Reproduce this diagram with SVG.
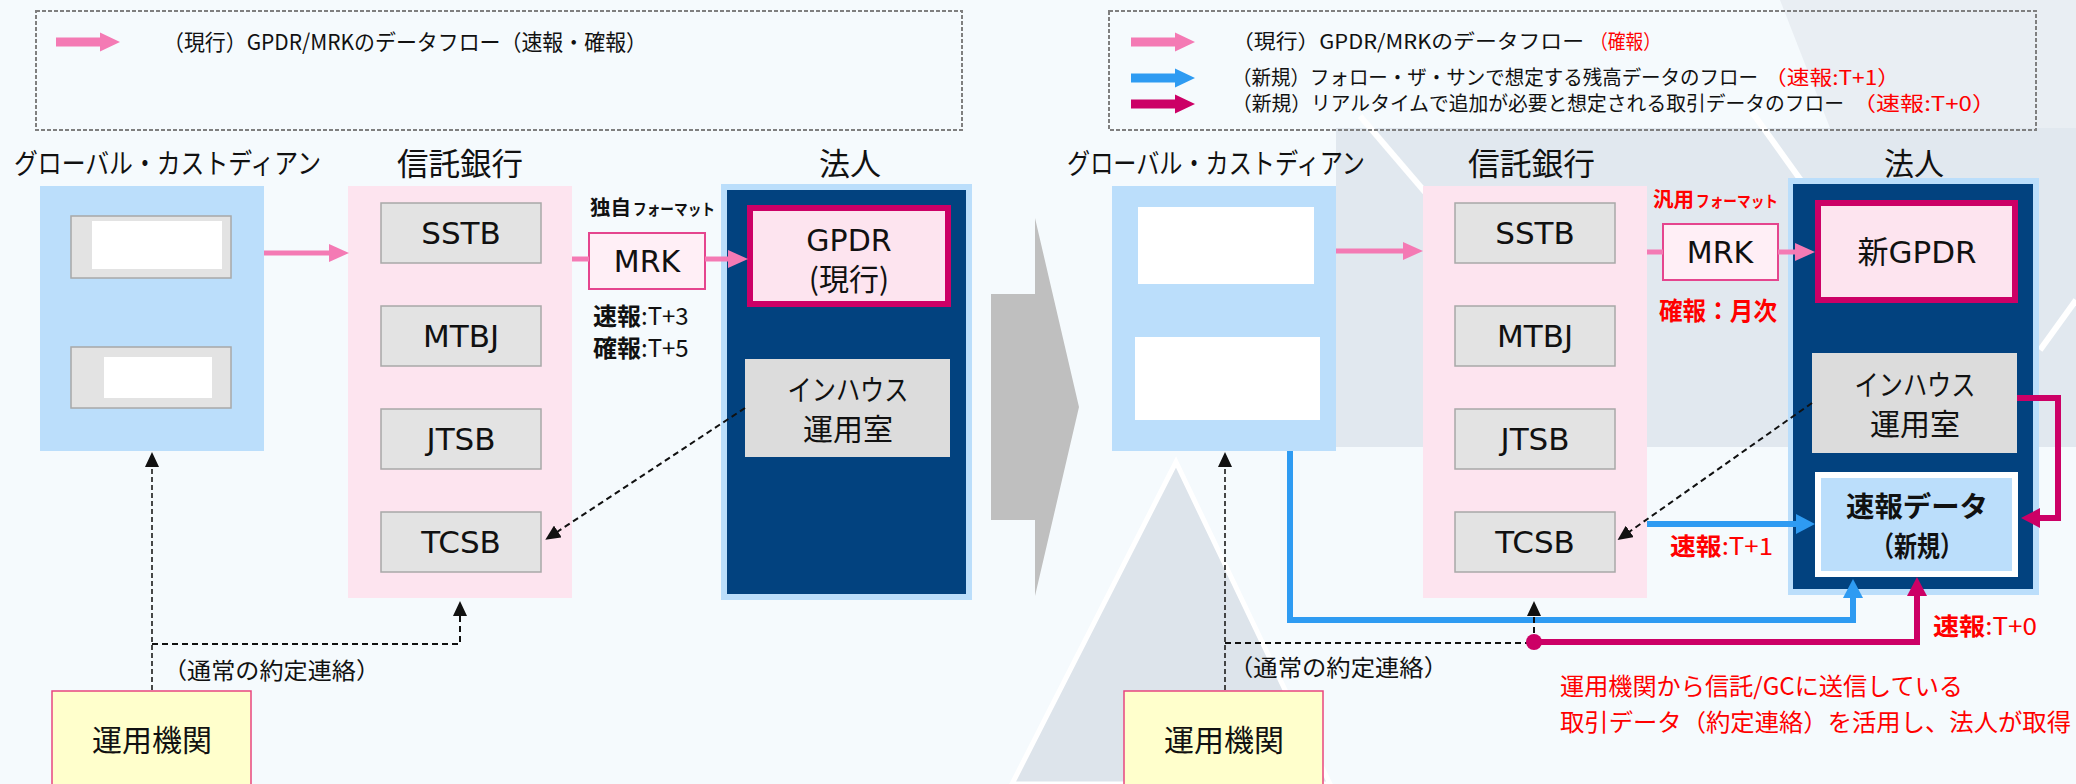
<svg xmlns="http://www.w3.org/2000/svg" width="2076" height="784" viewBox="0 0 2076 784">
<defs>
<style>
.jp{font-family:"Noto Sans CJK JP","Noto Sans",sans-serif;fill:#111}
.lat{font-family:"DejaVu Sans","Liberation Sans",sans-serif;fill:#111}
.red{fill:#FF0000}
.b{font-weight:bold}
.gc{fill:#BBDEFB}
.tb{fill:#FDE4EF}
.gbox{fill:#E3E3E3;stroke:#A8A8A8;stroke-width:1.5}
.wbox{fill:#FFFFFF}
.navy{fill:#02427F}
.gpdr{fill:#FDE4EF;stroke:#CC0066;stroke-width:6}
.inh{fill:#DCDCDC}
.mrk{fill:#FFEFF6;stroke:#E5458E;stroke-width:2}
.un{fill:#FFFFCC;stroke:#E8457F;stroke-width:1.5}
.pink{stroke:#F47AB4;stroke-width:5;fill:none}
.blue{stroke:#2E9BF2;stroke-width:6;fill:none}
.mag{stroke:#CC0066;stroke-width:6;fill:none}
.dash{stroke:#111;stroke-width:2;stroke-dasharray:6 4;fill:none}
.dash2{stroke:#333;stroke-width:1.8;stroke-dasharray:5 3;fill:none}
.legend{fill:none;stroke:#7F7F7F;stroke-width:2;stroke-dasharray:4 2}
</style>
<marker id="mPink" markerUnits="userSpaceOnUse" markerWidth="21" markerHeight="20" refX="1" refY="10" orient="auto"><path d="M0,1 L20,10 L0,19 z" fill="#F47AB4"/></marker>
<marker id="mBlue" markerUnits="userSpaceOnUse" markerWidth="21" markerHeight="22" refX="1" refY="11" orient="auto"><path d="M0,1 L19,11 L0,21 z" fill="#2E9BF2"/></marker>
<marker id="mMag" markerUnits="userSpaceOnUse" markerWidth="21" markerHeight="22" refX="1" refY="11" orient="auto"><path d="M0,1 L19,11 L0,21 z" fill="#CC0066"/></marker>
<marker id="mBlk" markerUnits="userSpaceOnUse" markerWidth="16" markerHeight="14" refX="1" refY="7" orient="auto"><path d="M0,0 L15,7 L0,14 z" fill="#111"/></marker>
<path id="legArrow" d="M0,-4.5 H44 V-9.5 L64,0 L44,9.5 V4.5 H0 z"/>
</defs>

<!-- background -->
<rect x="0" y="0" width="2076" height="784" fill="#F5FAFD"/>
<g id="bg-right">
<polygon points="1336,447 1336,128 2076,128 2076,447" fill="#E1E8EF"/>
<polygon points="1780,0 2076,0 2076,128 1830,128" fill="#E9EEF3"/>
<line x1="1360" y1="116" x2="1425" y2="192" stroke="#FFFFFF" stroke-width="6"/>
<line x1="1752" y1="112" x2="1805" y2="186" stroke="#FFFFFF" stroke-width="6"/>
<line x1="2076" y1="300" x2="2040" y2="350" stroke="#FFFFFF" stroke-width="6"/>
<polygon points="1176,462 1330,784 1012,784" fill="#DDE4EB" stroke="#FFFFFF" stroke-width="5"/>
</g>

<!-- legends -->
<g id="legend-left">
<rect class="legend" x="36" y="11" width="926" height="119"/>
<use href="#legArrow" x="56" y="42" fill="#F47AB4"/>
<text class="jp" x="163" y="50" font-size="22" textLength="484" lengthAdjust="spacingAndGlyphs">（現行）GPDR/MRKのデータフロー（速報・確報）</text>
</g>
<g id="legend-right">
<rect class="legend" x="1109" y="11" width="927" height="119"/>
<use href="#legArrow" x="1131" y="42" fill="#F47AB4"/>
<use href="#legArrow" x="1131" y="78" fill="#2E9BF2"/>
<use href="#legArrow" x="1131" y="104" fill="#CC0066"/>
<text class="jp" x="1232" y="49" font-size="20" textLength="352" lengthAdjust="spacingAndGlyphs">（現行）GPDR/MRKのデータフロー</text>
<text class="jp red" x="1590" y="49" font-size="20" textLength="71" lengthAdjust="spacingAndGlyphs">（確報）</text>
<text class="jp" x="1232" y="85" font-size="20" textLength="526" lengthAdjust="spacingAndGlyphs">（新規）フォロー・ザ・サンで想定する残高データのフロー</text>
<text class="jp red" x="1764" y="85" font-size="20" textLength="136" lengthAdjust="spacingAndGlyphs">（速報:T+1）</text>
<text class="jp" x="1232" y="111" font-size="20" textLength="612" lengthAdjust="spacingAndGlyphs">（新規）リアルタイムで追加が必要と想定される取引データのフロー</text>
<text class="jp red" x="1852" y="111" font-size="20" textLength="144" lengthAdjust="spacingAndGlyphs">（速報:T+0）</text>
</g>

<!-- headers -->
<g id="headers">
<text class="jp" x="14" y="174" font-size="28" textLength="307" lengthAdjust="spacingAndGlyphs">グローバル・カストディアン</text>
<text class="jp" x="397" y="175" font-size="31" textLength="126" lengthAdjust="spacingAndGlyphs">信託銀行</text>
<text class="jp" x="819" y="175" font-size="31" textLength="62" lengthAdjust="spacingAndGlyphs">法人</text>
<text class="jp" x="1067" y="174" font-size="28" textLength="298" lengthAdjust="spacingAndGlyphs">グローバル・カストディアン</text>
<text class="jp" x="1468" y="175" font-size="31" textLength="127" lengthAdjust="spacingAndGlyphs">信託銀行</text>
<text class="jp" x="1884" y="175" font-size="31" textLength="60" lengthAdjust="spacingAndGlyphs">法人</text>
</g>

<!-- big transition arrow -->
<polygon id="transition-arrow" points="991,294 1035,294 1035,218 1079,407 1035,596 1035,520 991,520" fill="#BFBFBF"/>

<!-- LEFT nodes -->
<g id="gc-left">
<rect class="gc" x="40" y="186" width="224" height="265"/>
<rect class="gbox" x="71" y="216" width="160" height="62"/>
<rect class="wbox" x="92" y="221" width="130" height="48"/>
<rect class="gbox" x="71" y="347" width="160" height="61"/>
<rect class="wbox" x="104" y="357" width="108" height="41"/>
</g>
<g id="tb-left">
<rect class="tb" x="348" y="186" width="224" height="412"/>
</g>
<g id="sstb-left"><rect class="gbox" x="381" y="203" width="160" height="60"/><text class="lat" x="461" y="244" font-size="31" text-anchor="middle">SSTB</text></g>
<g id="mtbj-left"><rect class="gbox" x="381" y="306" width="160" height="60"/><text class="lat" x="461" y="347" font-size="31" text-anchor="middle">MTBJ</text></g>
<g id="jtsb-left"><rect class="gbox" x="381" y="409" width="160" height="60"/><text class="lat" x="461" y="450" font-size="31" text-anchor="middle">JTSB</text></g>
<g id="tcsb-left"><rect class="gbox" x="381" y="512" width="160" height="60"/><text class="lat" x="461" y="553" font-size="31" text-anchor="middle">TCSB</text></g>
<g id="mrk-left">
<rect class="mrk" x="589" y="233" width="116" height="56"/>
<text class="lat" x="647" y="272" font-size="30" text-anchor="middle">MRK</text>
<text class="jp b" x="590" y="215" font-size="20" textLength="41" lengthAdjust="spacingAndGlyphs">独自</text>
<text class="jp b" x="633" y="215" font-size="16" textLength="82" lengthAdjust="spacingAndGlyphs">フォーマット</text>
<text class="jp" x="593" y="325" font-size="24"><tspan class="b" x="593" textLength="48" lengthAdjust="spacingAndGlyphs">速報</tspan><tspan>:T+3</tspan><tspan class="b" x="593" dy="32" textLength="48" lengthAdjust="spacingAndGlyphs">確報</tspan><tspan>:T+5</tspan></text>
</g>
<g id="corp-left">
<rect class="gc" x="721" y="184" width="251" height="416"/>
<rect class="navy" x="727" y="190" width="239" height="404"/>
</g>
<g id="gpdr-left">
<rect class="gpdr" x="750" y="208" width="198" height="96"/>
<text x="849" y="251" font-size="30" text-anchor="middle"><tspan class="lat">GPDR</tspan><tspan class="jp" x="849" dy="39">(現行)</tspan></text>
</g>
<g id="inhouse-left">
<rect class="inh" x="745" y="359" width="205" height="98"/>
<text class="jp" x="848" y="401" font-size="29" text-anchor="middle"><tspan textLength="121" lengthAdjust="spacingAndGlyphs">インハウス</tspan><tspan x="848" dy="39" font-size="30">運用室</tspan></text>
</g>
<g id="am-left">
<rect class="un" x="52" y="691" width="199" height="110"/>
<text class="jp" x="152" y="751" font-size="30" text-anchor="middle">運用機関</text>
</g>
<text class="jp" x="163" y="679" font-size="23" textLength="217" lengthAdjust="spacingAndGlyphs">（通常の約定連絡）</text>

<!-- RIGHT nodes -->
<g id="gc-right">
<rect class="gc" x="1112" y="186" width="224" height="265"/>
<rect class="wbox" x="1138" y="207" width="176" height="77"/>
<rect class="wbox" x="1135" y="337" width="185" height="83"/>
</g>
<g id="tb-right">
<rect class="tb" x="1423" y="186" width="224" height="412"/>
</g>
<g id="sstb-right"><rect class="gbox" x="1455" y="203" width="160" height="60"/><text class="lat" x="1535" y="244" font-size="31" text-anchor="middle">SSTB</text></g>
<g id="mtbj-right"><rect class="gbox" x="1455" y="306" width="160" height="60"/><text class="lat" x="1535" y="347" font-size="31" text-anchor="middle">MTBJ</text></g>
<g id="jtsb-right"><rect class="gbox" x="1455" y="409" width="160" height="60"/><text class="lat" x="1535" y="450" font-size="31" text-anchor="middle">JTSB</text></g>
<g id="tcsb-right"><rect class="gbox" x="1455" y="512" width="160" height="60"/><text class="lat" x="1535" y="553" font-size="31" text-anchor="middle">TCSB</text></g>
<g id="mrk-right">
<rect class="mrk" x="1663" y="224" width="115" height="56"/>
<text class="lat" x="1720" y="263" font-size="30" text-anchor="middle">MRK</text>
<text class="jp b red" x="1653" y="207" font-size="20" textLength="41" lengthAdjust="spacingAndGlyphs">汎用</text>
<text class="jp b red" x="1696" y="207" font-size="16" textLength="82" lengthAdjust="spacingAndGlyphs">フォーマット</text>
<text class="jp b red" x="1659" y="320" font-size="25" textLength="118" lengthAdjust="spacingAndGlyphs">確報：月次</text>
</g>
<g id="corp-right">
<rect class="gc" x="1788" y="178" width="251" height="417"/>
<rect class="navy" x="1793" y="184" width="240" height="405"/>
</g>
<g id="gpdr-right">
<rect class="gpdr" x="1818" y="203" width="197" height="97"/>
<text x="1917" y="263" font-size="31" text-anchor="middle"><tspan class="jp">新</tspan><tspan class="lat">GPDR</tspan></text>
</g>
<g id="inhouse-right">
<rect class="inh" x="1812" y="353" width="205" height="100"/>
<text class="jp" x="1915" y="396" font-size="29" text-anchor="middle"><tspan textLength="121" lengthAdjust="spacingAndGlyphs">インハウス</tspan><tspan x="1915" dy="39" font-size="30">運用室</tspan></text>
</g>
<g id="flash-right">
<rect class="wbox" x="1815" y="472" width="203" height="105"/>
<rect class="gc" x="1821" y="478" width="191" height="93"/>
<text class="jp b" x="1917" y="517" font-size="28" text-anchor="middle"><tspan textLength="142" lengthAdjust="spacingAndGlyphs">速報データ</tspan><tspan x="1917" dy="40" textLength="92" lengthAdjust="spacingAndGlyphs">（新規）</tspan></text>
</g>
<g id="am-right">
<rect class="un" x="1124" y="691" width="199" height="110"/>
<text class="jp" x="1224" y="751" font-size="30" text-anchor="middle">運用機関</text>
</g>
<text class="jp" x="1229" y="676" font-size="23" textLength="219" lengthAdjust="spacingAndGlyphs">（通常の約定連絡）</text>
<text class="jp" x="1670" y="555" font-size="24" textLength="103" lengthAdjust="spacingAndGlyphs"><tspan class="b red">速報</tspan><tspan class="red">:T+1</tspan></text>
<text class="jp" x="1933" y="635" font-size="24" textLength="104" lengthAdjust="spacingAndGlyphs"><tspan class="b red">速報</tspan><tspan class="red">:T+0</tspan></text>
<text class="jp red" x="1560" y="695" font-size="24"><tspan textLength="403" lengthAdjust="spacingAndGlyphs">運用機関から信託/GCに送信している</tspan><tspan x="1560" dy="36" textLength="511" lengthAdjust="spacingAndGlyphs">取引データ（約定連絡）を活用し、法人が取得</tspan></text>

<!-- connectors -->
<g id="connectors">
<line class="pink" x1="264" y1="253" x2="330" y2="253" marker-end="url(#mPink)"/>
<line class="pink" x1="572" y1="259" x2="589" y2="259"/>
<line class="pink" x1="705" y1="259" x2="729" y2="259" marker-end="url(#mPink)"/>
<line class="dash" x1="745" y1="408" x2="557" y2="532" marker-end="url(#mBlk)"/>
<line class="dash2" x1="152" y1="690" x2="152" y2="466" marker-end="url(#mBlk)"/>
<path class="dash" d="M152,644 H460 V615" marker-end="url(#mBlk)"/>

<line class="pink" x1="1336" y1="251" x2="1404" y2="251" marker-end="url(#mPink)"/>
<line class="pink" x1="1647" y1="252" x2="1663" y2="252"/>
<line class="pink" x1="1778" y1="252" x2="1796" y2="252" marker-end="url(#mPink)"/>
<line class="blue" x1="1647" y1="524" x2="1797" y2="524" marker-end="url(#mBlue)"/>
<line class="dash" x1="1812" y1="403" x2="1629" y2="532" marker-end="url(#mBlk)"/>
<path class="mag" d="M2017,398 H2058 V518 H2039" marker-end="url(#mMag)"/>
<path class="blue" d="M1290,451 V620 H1853 V597" marker-end="url(#mBlue)"/>
<line class="dash2" x1="1225" y1="690" x2="1225" y2="466" marker-end="url(#mBlk)"/>
<path class="dash" d="M1225,643 H1534"/>
<line class="dash" x1="1534" y1="643" x2="1534" y2="615" marker-end="url(#mBlk)"/>
<path class="mag" d="M1534,642 H1917 V595" marker-end="url(#mMag)"/>
<circle cx="1534" cy="642" r="8" fill="#CC0066"/>
</g>
</svg>
